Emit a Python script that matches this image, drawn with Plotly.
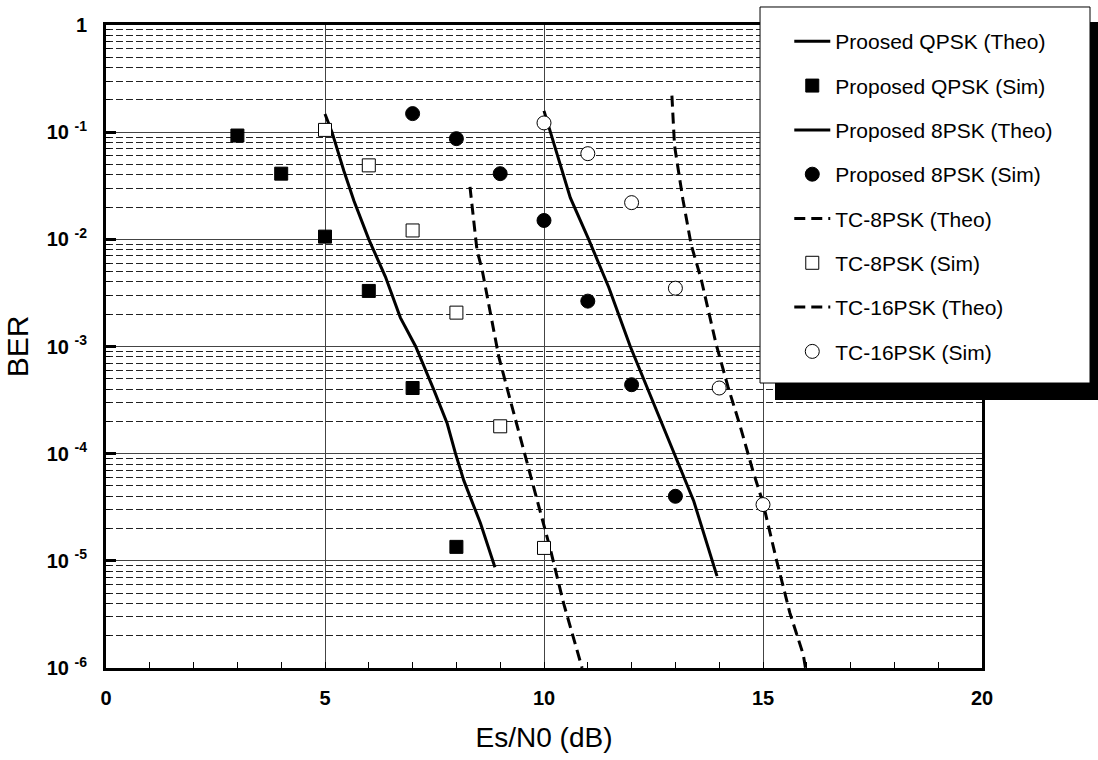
import plotly.graph_objects as go

# ---------------- data ----------------
qpsk_theo_x = [5.0, 5.16, 5.43, 5.66, 6.0, 6.38, 6.72, 7.07, 7.49, 7.79, 7.98, 8.17, 8.55, 8.88]
qpsk_theo_y = [0.148, 0.1, 0.0437, 0.0229, 0.01, 0.00447, 0.00186, 0.001, 0.000389,
               0.000191, 0.0001, 5.6e-5, 2.24e-5, 8.7e-6]

qpsk_sim_x = [3, 4, 5, 6, 7, 8]
qpsk_sim_y = [0.093, 0.041, 0.0106, 0.0033, 0.00041, 1.35e-5]

psk8_theo_x = [10.0, 10.19, 10.6, 11.02, 11.48, 11.97, 12.5, 12.96, 13.42, 13.95]
psk8_theo_y = [0.158, 0.089, 0.0245, 0.01, 0.00355, 0.001, 0.000295, 0.0001, 3.6e-5, 7.2e-6]

psk8_sim_x = [7, 8, 9, 10, 11, 12, 13]
psk8_sim_y = [0.149, 0.087, 0.041, 0.015, 0.00265, 0.00044, 4.0e-5]

tc8_theo_x = [8.31, 8.47, 8.59, 8.78, 8.97, 9.23, 9.46, 9.69, 9.92, 10.15, 10.45, 10.87]
tc8_theo_y = [0.0309, 0.00794, 0.00513, 0.00204, 0.000794, 0.000316, 0.000141,
              6.0e-5, 2.75e-5, 1.26e-5, 3.98e-6, 1.0e-6]

tc8_sim_x = [5, 6, 7, 8, 9, 10]
tc8_sim_y = [0.105, 0.049, 0.0121, 0.00207, 0.00018, 1.32e-5]

tc16_theo_x = [12.92, 12.98, 13.17, 13.36, 13.59, 13.93, 14.2, 14.47, 14.77, 15.0,
               15.3, 15.61, 15.92, 15.97]
tc16_theo_y = [0.219, 0.075, 0.0237, 0.0089, 0.00422, 0.00105, 0.000422, 0.000186,
               6.9e-5, 3.47e-5, 1.05e-5, 3.3e-6, 1.33e-6, 1.0e-6]

tc16_sim_x = [10, 11, 12, 13, 14, 15]
tc16_sim_y = [0.122, 0.063, 0.022, 0.0035, 0.00041, 3.35e-5]

legend_names = ["Proosed QPSK (Theo)", "Proposed QPSK (Sim)", "Proposed 8PSK (Theo)",
                "Proposed 8PSK (Sim)", "TC-8PSK (Theo)", "TC-8PSK (Sim)",
                "TC-16PSK (Theo)", "TC-16PSK (Sim)"]

y_tickvals = [1, 1e-1, 1e-2, 1e-3, 1e-4, 1e-5, 1e-6]
y_ticktext = ["<b>1</b>", "<b>10 <sup>-1</sup></b>", "<b>10 <sup>-2</sup></b>",
              "<b>10 <sup>-3</sup></b>", "<b>10 <sup>-4</sup></b>",
              "<b>10 <sup>-5</sup></b>", "<b>10 <sup>-6</sup></b>"]
x_tickvals = [0, 5, 10, 15, 20]
x_ticktext = ["<b>0</b>", "<b>5</b>", "<b>10</b>", "<b>15</b>", "<b>20</b>"]

# minor grid / minor tick positions
y_minor_vals = [m * 10.0 ** e for e in range(-6, 0) for m in range(2, 10)]
x_minor_vals = list(range(1, 20))

FONT = "Arial"

fig = go.Figure()

# empty helper traces so the overlay (minor-grid / inner-tick) axes are created
fig.add_trace(go.Scatter(x=[], y=[], xaxis="x2", yaxis="y2", showlegend=False,
                         hoverinfo="skip"))
fig.add_trace(go.Scatter(x=[], y=[], xaxis="x2", yaxis="y3", showlegend=False,
                         hoverinfo="skip"))

def line_trace(x, y, name, dash, rank):
    return go.Scatter(x=x, y=y, mode="lines", name=name, legendrank=rank,
                      legendgroup=name,
                      line=dict(color="black", width=3, dash=dash))

def marker_trace(x, y, name, symbol, fill, size, rank):
    return go.Scatter(x=x, y=y, mode="markers", name=name, legendrank=rank,
                      legendgroup=name,
                      marker=dict(symbol=symbol, size=size, color=fill,
                                  line=dict(color="black", width=1)))

fig.add_trace(line_trace(qpsk_theo_x, qpsk_theo_y, legend_names[0], "solid", 1))
fig.add_trace(line_trace(psk8_theo_x, psk8_theo_y, legend_names[2], "solid", 3))
fig.add_trace(line_trace(tc8_theo_x, tc8_theo_y, legend_names[4], "11px,6px", 5))
fig.add_trace(line_trace(tc16_theo_x, tc16_theo_y, legend_names[6], "11px,6px", 7))
fig.add_trace(marker_trace(qpsk_sim_x, qpsk_sim_y, legend_names[1], "square", "black", 13, 2))
fig.add_trace(marker_trace(psk8_sim_x, psk8_sim_y, legend_names[3], "circle", "black", 14, 4))
fig.add_trace(marker_trace(tc8_sim_x, tc8_sim_y, legend_names[5], "square", "white", 13, 6))
fig.add_trace(marker_trace(tc16_sim_x, tc16_sim_y, legend_names[7], "circle", "white", 14, 8))

# legend box with drop shadow (paper coordinates)
fig.add_shape(type="rect", xref="paper", yref="paper", x0=0.7637, x1=1.14, y0=0.4168, y1=1.0047,
              fillcolor="black", line=dict(width=0), layer="above")
fig.add_shape(type="rect", xref="paper", yref="paper", x0=0.7466, x1=1.1233, y0=0.4432, y1=1.028,
              fillcolor="white", line=dict(color="black", width=1), layer="above")

fig.update_layout(
    width=1098, height=760,
    margin=dict(l=106, r=116, t=25, b=92, autoexpand=False),
    paper_bgcolor="white", plot_bgcolor="white",
    font=dict(family=FONT, color="black", size=20),
    showlegend=True,
    legend=dict(x=0.780, y=1.006, xanchor="left", yanchor="top",
                bgcolor="rgba(0,0,0,0)", borderwidth=0,
                font=dict(size=21, family=FONT, color="black"),
                traceorder="grouped", tracegroupgap=14, itemwidth=36),
    xaxis=dict(range=[0, 20], tickmode="array", tickvals=x_tickvals, ticktext=x_ticktext,
               tickfont=dict(size=20, family=FONT, color="black"),
               ticks="outside", ticklen=10, tickwidth=1, tickcolor="rgba(0,0,0,0)",
               showgrid=True, gridcolor="#444", gridwidth=1,
               showline=True, linecolor="black", linewidth=3, mirror=True, zeroline=False,
               title=dict(text="Es/N0 (dB)", font=dict(size=28, family=FONT), standoff=20)),
    yaxis=dict(type="log", range=[-6, 0], tickmode="array", tickvals=y_tickvals,
               ticktext=y_ticktext, tickfont=dict(size=20, family=FONT, color="black"),
               ticks="outside", ticklen=12, tickwidth=1, tickcolor="rgba(0,0,0,0)",
               showgrid=True, gridcolor="#444", gridwidth=1,
               showline=True, linecolor="black", linewidth=3, mirror=True, zeroline=False,
               title=dict(text="BER", font=dict(size=30, family=FONT), standoff=10)),
    xaxis2=dict(overlaying="x", anchor="y2", side="bottom", range=[0, 20],
                tickmode="array", tickvals=x_minor_vals, showticklabels=False,
                ticks="inside", ticklen=6, tickwidth=1, tickcolor="black",
                showgrid=False, showline=False, zeroline=False),
    yaxis2=dict(overlaying="y", anchor="x2", side="left", type="log", range=[-6, 0],
                tickmode="array", tickvals=y_minor_vals, showticklabels=False,
                ticks="inside", ticklen=4, tickwidth=1, tickcolor="black",
                showgrid=True, gridcolor="#222", gridwidth=1, griddash="7px,3px",
                showline=False, zeroline=False),
    yaxis3=dict(overlaying="y", anchor="x2", side="left", type="log", range=[-6, 0],
                tickmode="array", tickvals=y_tickvals, showticklabels=False,
                ticks="inside", ticklen=10, tickwidth=3, tickcolor="black",
                showgrid=False, showline=False, zeroline=False),
)

fig.write_html("out.html")
